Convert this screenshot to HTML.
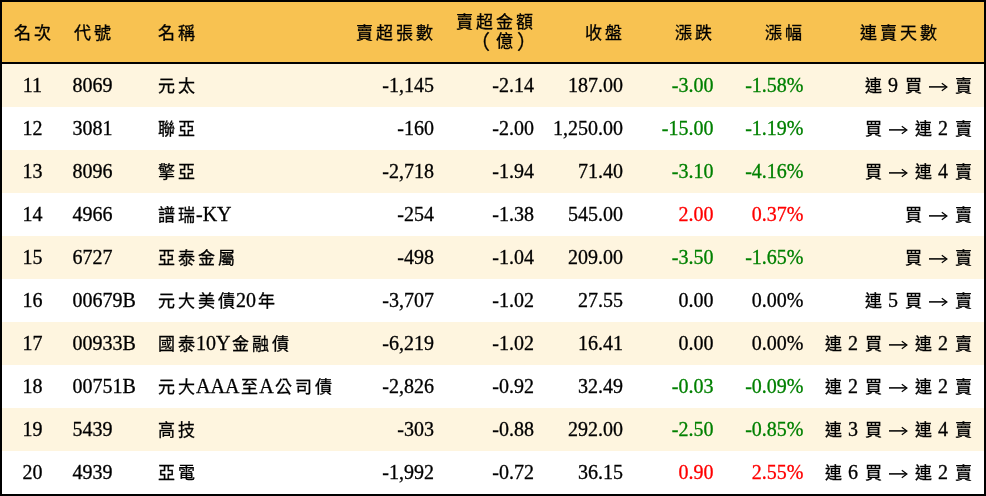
<!DOCTYPE html><html lang="zh-TW"><head><meta charset="utf-8"><style>
*{margin:0;padding:0;box-sizing:border-box}
html,body{width:986px;height:496px;overflow:hidden;background:#000}
body{font-family:"Liberation Serif",serif;font-size:20px;color:#000;position:relative;-webkit-font-smoothing:antialiased;-webkit-text-stroke:0.3px currentColor}
.r,.hd{will-change:transform}
.hd{position:absolute;left:2px;top:2px;width:982px;height:60px;background:#F8C251}
.r{position:absolute;left:2px;width:982px;height:43px;background:#fff}
.r.o{background:#FEF5DF}
.c{position:absolute;top:0;height:43px;line-height:43px;white-space:nowrap}
.hd .c{height:60px;line-height:60px}
.c1{left:0;width:61px;text-align:center}
.c2{left:70.5px}
.c3{left:154px}
.c4{right:550px;text-align:right}
.c5{right:450px;text-align:right}
.c6{right:361px;text-align:right}
.c7{right:270.5px;text-align:right}
.c8{right:180.5px;text-align:right}
.c9{right:11px;text-align:right}
.hd .c9{left:856.6px;width:80px;text-align:center;right:auto}
.g{color:#008000}.rd{color:#f00}
.ar{display:inline-block;vertical-align:middle;position:relative;top:-0.40625px}
.k{display:inline-block;width:20px;text-align:center;font-size:17px;font-style:normal}
.two{width:100px}
.two div{position:absolute;right:0;height:20px;line-height:20px;white-space:nowrap}
.two .k{line-height:20px;vertical-align:top}
.two .l1{top:11px}.two .l2{top:30px}
.k.p{font-size:20px}
.k.pl{position:relative;left:-4px}.k.pr{position:relative;left:3px}
</style></head><body>
<div class="hd"><span class="c c1"><i class="k">名</i><i class="k">次</i></span><span class="c c2"><i class="k">代</i><i class="k">號</i></span><span class="c c3"><i class="k">名</i><i class="k">稱</i></span><span class="c c4"><i class="k">賣</i><i class="k">超</i><i class="k">張</i><i class="k">數</i></span><span class="c c5 two"><div class="l1"><i class="k">賣</i><i class="k">超</i><i class="k">金</i><i class="k">額</i></div><div class="l2"><i class="k p pl">（</i><i class="k">億</i><i class="k p pr">）</i></div></span><span class="c c6"><i class="k">收</i><i class="k">盤</i></span><span class="c c7"><i class="k">漲</i><i class="k">跌</i></span><span class="c c8"><i class="k">漲</i><i class="k">幅</i></span><span class="c c9"><i class="k">連</i><i class="k">賣</i><i class="k">天</i><i class="k">數</i></span></div>
<div class="r o" style="top:64px"><span class="c c1">11</span><span class="c c2">8069</span><span class="c c3"><i class="k">元</i><i class="k">太</i></span><span class="c c4">-1,145</span><span class="c c5">-2.14</span><span class="c c6">187.00</span><span class="c c7 g">-3.00</span><span class="c c8 g">-1.58%</span><span class="c c9"><i class="k">連</i> 9 <i class="k">買</i> <svg class="ar" width="20" height="10" viewBox="0 0 20 10"><rect x="1" y="4.15" width="17.2" height="1.5" fill="#000"/><path d="M13.8 1.3L18.9 5L13.8 8.7" stroke="#000" stroke-width="1.2" fill="none"/></svg> <i class="k">賣</i></span></div>
<div class="r" style="top:107px"><span class="c c1">12</span><span class="c c2">3081</span><span class="c c3"><i class="k">聯</i><i class="k">亞</i></span><span class="c c4">-160</span><span class="c c5">-2.00</span><span class="c c6">1,250.00</span><span class="c c7 g">-15.00</span><span class="c c8 g">-1.19%</span><span class="c c9"><i class="k">買</i> <svg class="ar" width="20" height="10" viewBox="0 0 20 10"><rect x="1" y="4.15" width="17.2" height="1.5" fill="#000"/><path d="M13.8 1.3L18.9 5L13.8 8.7" stroke="#000" stroke-width="1.2" fill="none"/></svg> <i class="k">連</i> 2 <i class="k">賣</i></span></div>
<div class="r o" style="top:150px"><span class="c c1">13</span><span class="c c2">8096</span><span class="c c3"><i class="k">擎</i><i class="k">亞</i></span><span class="c c4">-2,718</span><span class="c c5">-1.94</span><span class="c c6">71.40</span><span class="c c7 g">-3.10</span><span class="c c8 g">-4.16%</span><span class="c c9"><i class="k">買</i> <svg class="ar" width="20" height="10" viewBox="0 0 20 10"><rect x="1" y="4.15" width="17.2" height="1.5" fill="#000"/><path d="M13.8 1.3L18.9 5L13.8 8.7" stroke="#000" stroke-width="1.2" fill="none"/></svg> <i class="k">連</i> 4 <i class="k">賣</i></span></div>
<div class="r" style="top:193px"><span class="c c1">14</span><span class="c c2">4966</span><span class="c c3"><i class="k">譜</i><i class="k">瑞</i>-KY</span><span class="c c4">-254</span><span class="c c5">-1.38</span><span class="c c6">545.00</span><span class="c c7 rd">2.00</span><span class="c c8 rd">0.37%</span><span class="c c9"><i class="k">買</i> <svg class="ar" width="20" height="10" viewBox="0 0 20 10"><rect x="1" y="4.15" width="17.2" height="1.5" fill="#000"/><path d="M13.8 1.3L18.9 5L13.8 8.7" stroke="#000" stroke-width="1.2" fill="none"/></svg> <i class="k">賣</i></span></div>
<div class="r o" style="top:236px"><span class="c c1">15</span><span class="c c2">6727</span><span class="c c3"><i class="k">亞</i><i class="k">泰</i><i class="k">金</i><i class="k">屬</i></span><span class="c c4">-498</span><span class="c c5">-1.04</span><span class="c c6">209.00</span><span class="c c7 g">-3.50</span><span class="c c8 g">-1.65%</span><span class="c c9"><i class="k">買</i> <svg class="ar" width="20" height="10" viewBox="0 0 20 10"><rect x="1" y="4.15" width="17.2" height="1.5" fill="#000"/><path d="M13.8 1.3L18.9 5L13.8 8.7" stroke="#000" stroke-width="1.2" fill="none"/></svg> <i class="k">賣</i></span></div>
<div class="r" style="top:279px"><span class="c c1">16</span><span class="c c2">00679B</span><span class="c c3"><i class="k">元</i><i class="k">大</i><i class="k">美</i><i class="k">債</i>20<i class="k">年</i></span><span class="c c4">-3,707</span><span class="c c5">-1.02</span><span class="c c6">27.55</span><span class="c c7">0.00</span><span class="c c8">0.00%</span><span class="c c9"><i class="k">連</i> 5 <i class="k">買</i> <svg class="ar" width="20" height="10" viewBox="0 0 20 10"><rect x="1" y="4.15" width="17.2" height="1.5" fill="#000"/><path d="M13.8 1.3L18.9 5L13.8 8.7" stroke="#000" stroke-width="1.2" fill="none"/></svg> <i class="k">賣</i></span></div>
<div class="r o" style="top:322px"><span class="c c1">17</span><span class="c c2">00933B</span><span class="c c3"><i class="k">國</i><i class="k">泰</i>10Y<i class="k">金</i><i class="k">融</i><i class="k">債</i></span><span class="c c4">-6,219</span><span class="c c5">-1.02</span><span class="c c6">16.41</span><span class="c c7">0.00</span><span class="c c8">0.00%</span><span class="c c9"><i class="k">連</i> 2 <i class="k">買</i> <svg class="ar" width="20" height="10" viewBox="0 0 20 10"><rect x="1" y="4.15" width="17.2" height="1.5" fill="#000"/><path d="M13.8 1.3L18.9 5L13.8 8.7" stroke="#000" stroke-width="1.2" fill="none"/></svg> <i class="k">連</i> 2 <i class="k">賣</i></span></div>
<div class="r" style="top:365px"><span class="c c1">18</span><span class="c c2">00751B</span><span class="c c3"><i class="k">元</i><i class="k">大</i>AAA<i class="k">至</i>A<i class="k">公</i><i class="k">司</i><i class="k">債</i></span><span class="c c4">-2,826</span><span class="c c5">-0.92</span><span class="c c6">32.49</span><span class="c c7 g">-0.03</span><span class="c c8 g">-0.09%</span><span class="c c9"><i class="k">連</i> 2 <i class="k">買</i> <svg class="ar" width="20" height="10" viewBox="0 0 20 10"><rect x="1" y="4.15" width="17.2" height="1.5" fill="#000"/><path d="M13.8 1.3L18.9 5L13.8 8.7" stroke="#000" stroke-width="1.2" fill="none"/></svg> <i class="k">連</i> 2 <i class="k">賣</i></span></div>
<div class="r o" style="top:408px"><span class="c c1">19</span><span class="c c2">5439</span><span class="c c3"><i class="k">高</i><i class="k">技</i></span><span class="c c4">-303</span><span class="c c5">-0.88</span><span class="c c6">292.00</span><span class="c c7 g">-2.50</span><span class="c c8 g">-0.85%</span><span class="c c9"><i class="k">連</i> 3 <i class="k">買</i> <svg class="ar" width="20" height="10" viewBox="0 0 20 10"><rect x="1" y="4.15" width="17.2" height="1.5" fill="#000"/><path d="M13.8 1.3L18.9 5L13.8 8.7" stroke="#000" stroke-width="1.2" fill="none"/></svg> <i class="k">連</i> 4 <i class="k">賣</i></span></div>
<div class="r" style="top:451px"><span class="c c1">20</span><span class="c c2">4939</span><span class="c c3"><i class="k">亞</i><i class="k">電</i></span><span class="c c4">-1,992</span><span class="c c5">-0.72</span><span class="c c6">36.15</span><span class="c c7 rd">0.90</span><span class="c c8 rd">2.55%</span><span class="c c9"><i class="k">連</i> 6 <i class="k">買</i> <svg class="ar" width="20" height="10" viewBox="0 0 20 10"><rect x="1" y="4.15" width="17.2" height="1.5" fill="#000"/><path d="M13.8 1.3L18.9 5L13.8 8.7" stroke="#000" stroke-width="1.2" fill="none"/></svg> <i class="k">連</i> 2 <i class="k">賣</i></span></div>
</body></html>
